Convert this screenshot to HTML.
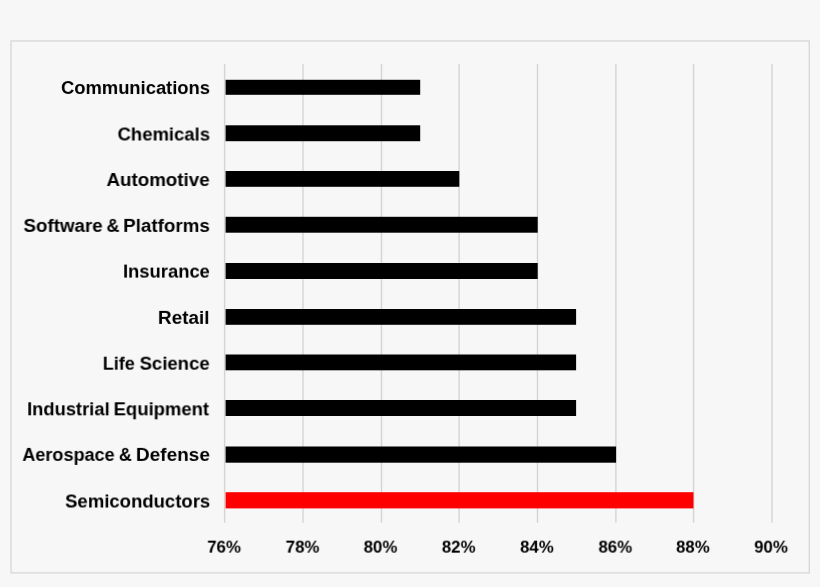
<!DOCTYPE html>
<html lang="en"><head><meta charset="utf-8"><title>Chart</title>
<style>
html,body{margin:0;padding:0}
body{width:820px;height:587px;background:#f7f7f7;position:relative;overflow:hidden;font-family:"Liberation Sans",Arial,sans-serif;font-weight:bold;color:#000}
svg{position:absolute;left:0;top:0}
.w,.t{position:absolute;left:0;top:0;white-space:nowrap;line-height:20px;height:20px;transform-origin:0 0;filter:blur(0.3px)}
.w{font-size:17.6px}
.t{font-size:15.7px}
</style></head><body>
<svg width="820" height="587" viewBox="0 0 820 587">
<rect x="11.05" y="40.95" width="798.25" height="531.95" fill="none" stroke="#d9d9d9" stroke-width="1.4"/>
<g stroke="#d4d4d4" stroke-width="1.4">
<line x1="224.60" y1="64" x2="224.60" y2="522.8"/>
<line x1="303.00" y1="64" x2="303.00" y2="522.8"/>
<line x1="381.50" y1="64" x2="381.50" y2="522.8"/>
<line x1="459.10" y1="64" x2="459.10" y2="522.8"/>
<line x1="537.50" y1="64" x2="537.50" y2="522.8"/>
<line x1="615.90" y1="64" x2="615.90" y2="522.8"/>
<line x1="693.60" y1="64" x2="693.60" y2="522.8"/>
<line x1="772.00" y1="64" x2="772.00" y2="522.8"/>
</g>
<rect x="225.6" y="79.80" width="194.60" height="15.00" fill="#000"/>
<rect x="225.6" y="125.30" width="194.60" height="15.90" fill="#000"/>
<rect x="225.6" y="171.00" width="233.70" height="15.80" fill="#000"/>
<rect x="225.6" y="216.80" width="312.10" height="15.90" fill="#000"/>
<rect x="225.6" y="263.00" width="312.10" height="16.00" fill="#000"/>
<rect x="225.6" y="309.00" width="350.50" height="15.80" fill="#000"/>
<rect x="225.6" y="354.50" width="350.50" height="15.80" fill="#000"/>
<rect x="225.6" y="400.00" width="350.50" height="16.00" fill="#000"/>
<rect x="225.6" y="446.50" width="390.50" height="16.20" fill="#000"/>
<rect x="225.6" y="492.20" width="467.90" height="16.20" fill="#fe0000"/>
</svg>
<span class="w" style="transform:translate(61.07px,78.00px) rotate(0.03deg) scaleX(1.0437)">Communications</span>
<span class="w" style="transform:translate(117.58px,124.50px) rotate(0.03deg) scaleX(1.0506)">Chemicals</span>
<span class="w" style="transform:translate(106.53px,170.00px) rotate(0.03deg) scaleX(1.0658)">Automotive</span>
<span class="w" style="transform:translate(23.49px,215.90px) rotate(0.03deg) scaleX(1.0665)">Software</span>
<span class="w" style="transform:translate(106.52px,215.90px) rotate(0.03deg) scaleX(1.0199)">&amp;</span>
<span class="w" style="transform:translate(123.21px,215.90px) rotate(0.03deg) scaleX(1.0678)">Platforms</span>
<span class="w" style="transform:translate(123.06px,261.60px) rotate(0.03deg) scaleX(1.0447)">Insurance</span>
<span class="w" style="transform:translate(157.95px,307.90px) rotate(0.03deg) scaleX(1.0768)">Retail</span>
<span class="w" style="transform:translate(102.78px,353.70px) rotate(0.03deg) scaleX(1.0230)">Life</span>
<span class="w" style="transform:translate(139.63px,353.70px) rotate(0.03deg) scaleX(1.0532)">Science</span>
<span class="w" style="transform:translate(27.17px,399.30px) rotate(0.03deg) scaleX(1.0418)">Industrial</span>
<span class="w" style="transform:translate(113.62px,399.30px) rotate(0.03deg) scaleX(1.0509)">Equipment</span>
<span class="w" style="transform:translate(22.36px,444.90px) rotate(0.03deg) scaleX(1.0262)">Aerospace</span>
<span class="w" style="transform:translate(118.87px,444.90px) rotate(0.03deg) scaleX(1.0174)">&amp;</span>
<span class="w" style="transform:translate(135.93px,444.90px) rotate(0.03deg) scaleX(1.0804)">Defense</span>
<span class="w" style="transform:translate(65.14px,491.50px) rotate(0.03deg) scaleX(1.0532)">Semiconductors</span>
<span class="t" style="transform:translate(207.27px,537.66px) rotate(0.03deg) scaleX(1.0740)">76%</span>
<span class="t" style="transform:translate(285.66px,537.66px) rotate(0.03deg) scaleX(1.0757)">78%</span>
<span class="t" style="transform:translate(363.68px,537.66px) rotate(0.03deg) scaleX(1.0724)">80%</span>
<span class="t" style="transform:translate(441.86px,537.66px) rotate(0.03deg) scaleX(1.0719)">82%</span>
<span class="t" style="transform:translate(520.11px,537.66px) rotate(0.03deg) scaleX(1.0701)">84%</span>
<span class="t" style="transform:translate(598.51px,537.66px) rotate(0.03deg) scaleX(1.0715)">86%</span>
<span class="t" style="transform:translate(676.11px,537.66px) rotate(0.03deg) scaleX(1.0701)">88%</span>
<span class="t" style="transform:translate(754.22px,537.66px) rotate(0.03deg) scaleX(1.0741)">90%</span>
</body></html>
